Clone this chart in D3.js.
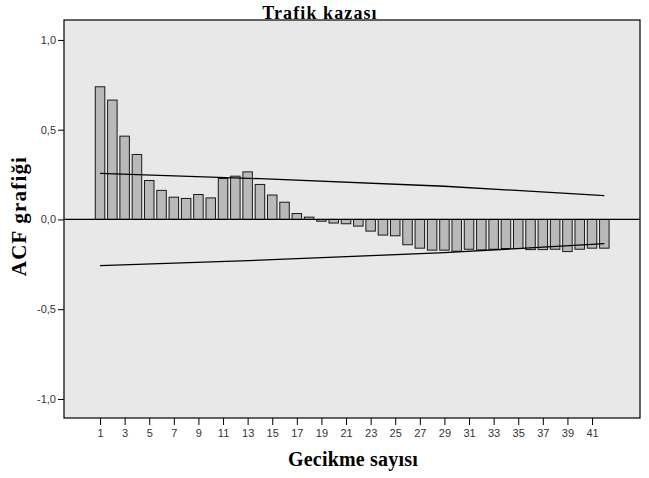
<!DOCTYPE html>
<html><head><meta charset="utf-8">
<script src="https://cdn.jsdelivr.net/npm/d3@7"></script>
<style>body{margin:0;background:#fff}svg{display:block}</style>
</head><body>
<svg id="c" width="649" height="478"></svg>
<script>
const title = "Trafik kazası";
const xTitle = "Gecikme sayısı";
const yTitle = "ACF grafiği";
const lags = d3.range(1, 43);
const acf = [0.739,0.665,0.464,0.362,0.217,0.162,0.124,0.117,0.139,0.120,
             0.228,0.241,0.265,0.195,0.136,0.096,0.033,0.013,-0.010,-0.020,
             -0.024,-0.037,-0.065,-0.087,-0.091,-0.141,-0.160,-0.171,-0.171,-0.177,
             -0.166,-0.170,-0.166,-0.162,-0.162,-0.168,-0.168,-0.166,-0.179,-0.166,
             -0.160,-0.160];
const confLags = [1, 14, 29, 42];
const confUpper = [0.257, 0.227, 0.185, 0.133];
const confLower = [-0.257, -0.227, -0.185, -0.135];
const yTicks = [1.0, 0.5, 0.0, -0.5, -1.0];
const xTicks = d3.range(1, 42, 2);

const svg = d3.select("#c");
const L = 64, R = 640, T = 20, B = 418;
const x = d3.scaleLinear().domain([-1.93, 44.9]).range([L, R]);
const y = d3.scaleLinear().domain([-1.106, 1.111]).range([B, T]);
const fmt = v => d3.format(".1f")(v).replace(".", ",").replace("−","-");

svg.append("rect").attr("x", L).attr("y", T).attr("width", R - L).attr("height", B - T)
  .attr("fill", "#e8e8e8");

const bw = 9.5;
svg.append("g").selectAll("rect").data(lags).join("rect")
  .attr("x", d => x(d) - bw / 2)
  .attr("y", (d, i) => Math.min(y(acf[i]), y(0)))
  .attr("width", bw)
  .attr("height", (d, i) => Math.abs(y(acf[i]) - y(0)))
  .attr("fill", "#b9b9b9").attr("stroke", "#1a1a1a").attr("stroke-width", 1);

svg.append("line").attr("x1", L).attr("x2", R).attr("y1", y(0)).attr("y2", y(0))
  .attr("stroke", "#000").attr("stroke-width", 1.2);

const line = d3.line().x(d => x(d[0])).y(d => y(d[1]));
svg.append("path").attr("d", line(confLags.map((l, i) => [l, confUpper[i]])))
  .attr("fill", "none").attr("stroke", "#000").attr("stroke-width", 1.3);
svg.append("path").attr("d", line(confLags.map((l, i) => [l, confLower[i]])))
  .attr("fill", "none").attr("stroke", "#000").attr("stroke-width", 1.3);

svg.append("rect").attr("x", L).attr("y", T).attr("width", R - L).attr("height", B - T)
  .attr("fill", "none").attr("stroke", "#000").attr("stroke-width", 1.2);

const yAxis = d3.axisLeft(y).tickValues(yTicks).tickSize(6).tickPadding(2).tickFormat(fmt);
const gy = svg.append("g").attr("transform", `translate(${L},0)`).call(yAxis);
gy.select(".domain").remove();
gy.selectAll("line").attr("stroke", "#000");
gy.selectAll("text").attr("font-family", "Liberation Sans, Arial, sans-serif")
  .attr("font-size", 11).attr("fill", "#333");

const xAxis = d3.axisBottom(x).tickValues(xTicks).tickSize(7).tickPadding(4).tickFormat(d3.format("d"));
const gx = svg.append("g").attr("transform", `translate(0,${B})`).call(xAxis);
gx.select(".domain").remove();
gx.selectAll("line").attr("stroke", "#000");
gx.selectAll("text").attr("font-family", "Liberation Sans, Arial, sans-serif")
  .attr("font-size", 11).attr("fill", "#333");

svg.append("text").attr("x", 320).attr("y", 19).attr("text-anchor", "middle")
  .attr("font-family", "Liberation Serif, Times New Roman, serif").attr("font-weight", "bold")
  .attr("font-size", 18).attr("letter-spacing", 1.1).text(title);
svg.append("text").attr("x", 353).attr("y", 466).attr("text-anchor", "middle")
  .attr("font-family", "Liberation Serif, Times New Roman, serif").attr("font-weight", "bold")
  .attr("font-size", 20).attr("letter-spacing", 0.2).text(xTitle);
svg.append("text").attr("transform", `translate(26,216) rotate(-90)`).attr("text-anchor", "middle")
  .attr("font-family", "Liberation Serif, Times New Roman, serif").attr("font-weight", "bold")
  .attr("font-size", 21).attr("letter-spacing", 1.2).text(yTitle);
</script>
</body></html>
